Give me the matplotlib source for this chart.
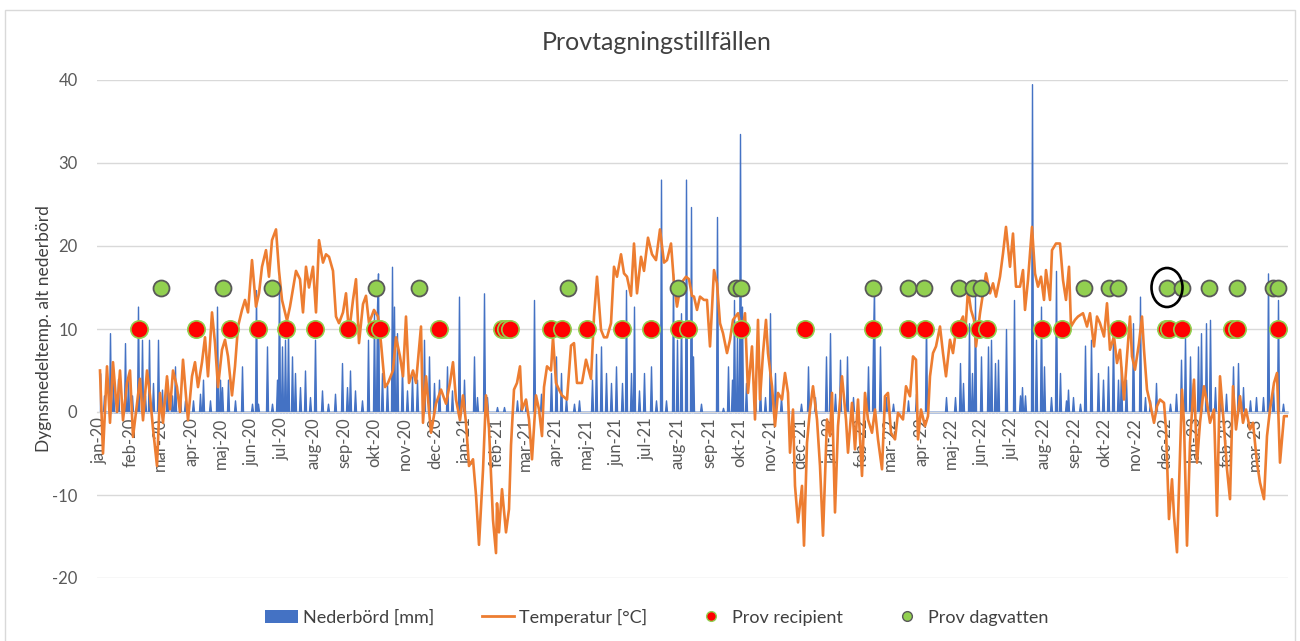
import numpy as np
import pandas as pd
import matplotlib
matplotlib.use("Agg")
import matplotlib.pyplot as plt
import matplotlib.dates as mdates
from matplotlib.patches import Ellipse, Rectangle, Patch
from matplotlib.lines import Line2D

plt.rcParams['font.family'] = ['Lato', 'DejaVu Sans']
plt.rcParams['axes.unicode_minus'] = False

start = pd.Timestamp('2020-01-01')

# temperature (day offset from 2020-01-01, degC)
temp_day = [0, 3, 7, 10, 13, 17, 20, 23, 27, 30, 33, 37, 40, 43, 47, 50, 53, 57, 60, 63, 67, 70, 73, 77, 80, 83, 88, 92, 95, 98,
            102, 105, 108, 112, 115, 118, 122, 125, 128, 132, 135, 138, 142, 145, 148, 152, 156, 159, 162, 166, 169, 172, 176, 179,
            182, 187, 190, 196, 200, 203, 206, 209, 213, 216, 219, 223, 226, 229, 233, 236, 239, 243, 246, 249, 253, 256, 259, 263,
            266, 269, 274, 278, 281, 285, 288, 293, 296, 300, 303, 306, 309, 313, 316, 321, 323, 326, 331, 336, 341, 346, 350, 353,
            356, 360, 363, 366, 369, 373, 376, 379, 383, 386, 389, 393, 396, 397, 399, 402, 406, 409, 411, 414, 417, 420, 422, 426,
            429, 432, 436, 439, 442, 444, 447, 451, 453, 456, 459, 462, 467, 471, 474, 477, 482, 486, 491, 494, 497, 501, 504, 507,
            511, 514, 517, 521, 524, 527, 531, 534, 537, 541, 544, 548, 552, 556, 560, 564, 567, 571, 574, 577, 581, 586, 589, 592,
            594, 597, 600, 604, 607, 610, 614, 617, 620, 623, 627, 630, 633, 638, 642, 645, 648, 652, 655, 658, 660, 663, 666, 668,
            672, 675, 678, 682, 685, 688, 690, 693, 695, 698, 702, 704, 707, 710, 713, 717, 720, 723, 727, 730, 732, 735, 738, 742,
            746, 748, 752, 755, 758, 762, 765, 768, 772, 775, 778, 782, 785, 788, 791, 795, 798, 803, 806, 810, 813, 816, 818, 821,
            825, 828, 830, 833, 836, 840, 843, 846, 850, 853, 856, 860, 863, 865, 868, 871, 874, 876, 880, 883, 886, 890, 893, 896,
            900, 903, 906, 910, 913, 916, 920, 923, 925, 928, 932, 935, 938, 941, 944, 946, 950, 952, 956, 960, 963, 966, 969, 971,
            975, 978, 983, 987, 990, 994, 997, 1000, 1004, 1007, 1010, 1014, 1017, 1020, 1024, 1027, 1030, 1032, 1035, 1039, 1042,
            1044, 1047, 1050, 1054, 1057, 1060, 1064, 1066, 1069, 1072, 1074, 1077, 1080, 1082, 1084, 1087, 1090, 1094, 1097, 1100,
            1104, 1107, 1110, 1114, 1117, 1120, 1124, 1127, 1130, 1133, 1136, 1140, 1143, 1146, 1150, 1153, 1157, 1160, 1164, 1167,
            1170, 1174, 1177, 1180, 1184, 1187]
temp_c = [5, -5, 5.5, -1.3, 6, 0, 5, -1, 3.5, 5, -3, 1, 4, -1, 5, 2, -2, -6.5, 2.3, -1.3, 4.3, 0.3, 5, 3, 0, 6.3, -1, 4.3, 6, 3,
          6, 9, 4.3, 12, 8.3, 3, 7.5, 8.7, 6.7, 2, 5.5, 10.3, 12.3, 13.5, 12, 18.3, 12.7, 14.3, 17.5, 19.5, 16.3, 20.7, 22, 17,
          13.5, 11, 12.7, 17, 16, 12, 17.5, 15, 17.5, 12, 20.7, 18, 19, 18.7, 17, 11.5, 10.7, 12, 14.3, 9.5, 13.5, 16, 8.3, 13,
          14, 10.7, 12.3, 11.5, 8.3, 3, 3.5, 5, 9, 6.7, 4.3, 11.5, 3.5, 5, 3.5, 10.3, -1.3, 4.3, -2.5, 1, 2.7, 1, 3.5, 6,
          1.5, -1, 2, -1.3, -6.5, -5.7, -10, -16, -7, 2, -2, -13, -17, -11, -14.5, -9.3, -14.5, -11.7, -4, 2.7, 3.5, 5.5, 0.3, 1.5,
          -0.9, -5.7, 2, 0.3, -2.9, 3, 5.5, 5, 9, 3.5, 2.7, 2, 1.5, 8, 8.3, 3.5, 3.5, 6.3, 4, 11.5, 16.3, 9.9, 9, 9,
          10.7, 17.5, 16.3, 19, 16.7, 16.3, 14, 20.3, 14.3, 18.7, 17, 21, 19, 18.3, 22, 18, 18.3, 20.3, 15.5, 12.7, 15.5, 16.3, 16, 14,
          13.9, 12.3, 13.9, 13.5, 13.5, 7.9, 17.1, 15.5, 10.7, 9.5, 7.1, 8.7, 11.1, 11.9, 9.5, 11.9, 2.3, 7.9, -0.9, 11.1, 1.5, 7.1, 11.1, 7.1,
          3.1, -1.7, 2.3, 1.5, 4.7, 2.3, -4.9, 0.3, -8.9, -13.3, -8.9, -16.1, -3.7, 0.3, 3.1, -0.9, -6.5, -14.9, -0.9, -2.9, 2.3, -12.1, -1.7, 4.3,
          -0.9, -4.9, 1.1, -4.5, 1.5, -7.7, 2.3, -0.9, -2.5, 0.3, -3.3, -6.9, 1.9, 2.3, -2.5, -3.3, -0.1, -0.9, 3.1, 1.9, 6.7, 6.3, -3.3, 0.3,
          -1.7, -0.5, 4.3, 7.1, 7.9, 10.3, 7.1, 4.3, 8.7, 7.1, 9.9, 10.7, 11.5, 9.1, 14.7, 12.3, 11.1, 7.9, 11.9, 14.3, 16.7, 14.3, 15.5, 13.9,
          16.3, 19.1, 22.3, 17.5, 21.5, 15.1, 15.1, 17.1, 12.3, 15.9, 22.3, 16.7, 15.1, 16.3, 13.5, 17.1, 13.5, 19.5, 20.3, 20.3, 15.9, 13.5, 17.5, 10.3,
          11.1, 11.5, 11.9, 10.3, 11.9, 7.9, 11.5, 10.7, 9.1, 13.1, 7.5, 9.1, 5.9, 7.5, 1.5, 6.7, 11.5, 6.7, 5.1, 8.3, 11.5,
          7.5, 2.7, 1.1, -1.3, 0.7, 1.5, 1.1, -2.1, -12.9, -8.1, -12.5, -16.9, -5.3, 2.7, -1.3, -16.1, -3.7, 3.9, -6.1, -1.3,
          3.1, 1.1, -1.3, 0.3, -12.5, 4.3, -1.7, -6.9, -10.5, 3.1, -2.1, 1.9, -1.3, 0.3, -2.1, -1.3, -6.1, -8.5, -10.5, -2.9,
          0.3, 3.5, 4.7, -6.1, -0.5, -0.5]

# precipitation spikes (day offset, mm); other days are dry
rain_day = [0, 4, 10, 13, 18, 25, 28, 32, 38, 42, 45, 49, 53, 58, 62, 67, 72, 75, 80, 85, 93, 100, 103, 110, 117, 120, 122, 128,
            135, 142, 152, 156, 158, 167, 172, 177, 179, 182, 185, 188, 192, 195, 200, 205, 210, 215, 222, 228, 235, 242, 247,
            250, 255, 262, 268, 274, 277, 278, 282, 287, 292, 294, 297, 302, 307, 312, 317, 324, 329, 334, 339, 347, 352, 359,
            364, 374, 377, 384, 387, 397, 404, 417, 421, 426, 434, 441, 451, 456, 461, 466, 474, 479, 492, 496, 501, 506, 511,
            516, 522, 526, 531, 534, 539, 544, 551, 556, 561, 566, 573, 577, 581, 586, 591, 593, 601, 617, 623, 628, 632, 634,
            637, 640, 642, 646, 655, 660, 665, 670, 675, 681, 701, 708, 715, 726, 730, 735, 740, 747, 753, 768, 773, 774, 780,
            786, 793, 808, 816, 826, 846, 855, 860, 863, 869, 872, 875, 881, 888, 891, 895, 898, 906, 914, 920, 922, 925, 932,
            936, 941, 944, 951, 956, 960, 966, 968, 973, 980, 985, 991, 998, 1003, 1008, 1013, 1018, 1021, 1026, 1033, 1040,
            1045, 1050, 1056, 1070, 1076, 1081, 1085, 1090, 1093, 1098, 1101, 1106, 1110, 1115, 1120, 1126, 1133, 1138, 1143,
            1150, 1156, 1163, 1168, 1173, 1178, 1183]
rain_mm = [4.7, 2, 9.5, 3.5, 4, 8.3, 4, 2, 12.7, 8.7, 2, 8.7, 3.5, 8.7, 2.7, 4, 2, 5.5, 2.2, 1.4, 1.4, 2.2, 3.9, 1.4, 12.7, 3.9, 3, 3.9,
           1.4, 5.5, 1, 14.7, 1, 7.9, 1, 3.9, 16.3, 7.9, 8.7, 9.9, 6.7, 4.7, 3, 5, 1.8, 8.7, 2.6, 1, 2.2, 5.9, 3,
           5, 2.6, 1.4, 8.7, 11.9, 12.7, 16.7, 4.7, 3.5, 17.5, 12.7, 9.5, 5.5, 2.6, 4.3, 3.9, 8.7, 6.7, 3.5, 3.9, 5.5, 2.6, 13.9,
           3.9, 6.7, 1.8, 14.3, 1.8, 0.6, 0.6, 1.4, 1, 1.4, 13.5, 2.2, 4.7, 6.7, 4.7, 1.8, 1, 1.4, 3.9, 7, 7.9, 4.7, 3.5,
           5.5, 3.5, 14.7, 4.7, 12.7, 2.6, 4.7, 5.5, 1.4, 28, 1.4, 16.7, 8.7, 11.9, 28, 24.7, 6.7, 1, 23.5, 0.5, 5.5, 3.9, 13.5,
           9.5, 33.5, 12.7, 3.5, 2.6, 3, 1.8, 11.9, 4.7, 1.8, 1, 5.5, 1.8, 6.7, 9.5, 2.2, 6.3, 6.7, 1.8, 5.5, 8.7, 15, 7.9,
           1.8, 1, 1.4, 2.2, 11, 1.8, 1.8, 5.9, 3.5, 10.7, 4.7, 13.9, 6.7, 7.9, 8.7, 5.9, 6.3, 10, 13.5, 2, 3, 2, 39.5,
           8.7, 12.7, 5.5, 1.8, 17, 4.7, 1.4, 2.7, 1.8, 1, 8, 8.7, 4.7, 3.9, 5.5, 9.5, 3.9, 5.5, 3.9, 10.7, 13.9,
           1.8, 1.4, 3.5, 1, 2.2, 6.3, 9.1, 6.7, 3.5, 7.9, 9.5, 10.7, 11.1, 3, 1.4, 2.2, 5.5, 5.9, 3,
           1.4, 1.8, 1.8, 16.7, 3, 13.5, 1]

# sampling occasions
prov_recipient = ['2020-02-09', '2020-04-06', '2020-05-10', '2020-06-07', '2020-07-05', '2020-08-03', '2020-09-05',
                  '2020-10-02', '2020-10-07', '2020-12-05', '2021-02-06', '2021-02-10', '2021-02-14', '2021-03-27',
                  '2021-04-07', '2021-05-02', '2021-06-06', '2021-07-05', '2021-08-02', '2021-08-11', '2021-10-03',
                  '2021-12-06', '2022-02-12', '2022-03-19', '2022-04-05', '2022-05-09', '2022-05-29', '2022-06-06',
                  '2022-07-31', '2022-08-20', '2022-10-15', '2022-12-02', '2022-12-05', '2022-12-18', '2023-02-06',
                  '2023-02-11', '2023-03-24']
prov_dagvatten = ['2020-03-02', '2020-05-03', '2020-06-21', '2020-10-03', '2020-11-15', '2021-04-13', '2021-08-01',
                  '2021-09-28', '2021-10-03', '2022-02-12', '2022-03-19', '2022-04-04', '2022-05-09', '2022-05-23',
                  '2022-05-31', '2022-09-11', '2022-10-06', '2022-10-15', '2022-12-03', '2022-12-18', '2023-01-14',
                  '2023-02-11', '2023-03-19', '2023-03-24']
recipient_level = 10
dagvatten_level = 15
circled = '2022-12-03'

months_sv = ['jan', 'feb', 'mar', 'apr', 'maj', 'jun', 'jul', 'aug', 'sep', 'okt', 'nov', 'dec']

temp_dates = start + pd.to_timedelta(temp_day, unit='D')
days = pd.date_range(start, periods=1189, freq='D')
rain = np.zeros(len(days))
rain[np.array(rain_day)] = rain_mm
rec_dates = pd.to_datetime(prov_recipient)
dag_dates = pd.to_datetime(prov_dagvatten)

fig = plt.figure(figsize=(13, 6.41), dpi=100)
fig.patches.append(Rectangle((5 / 1300, -0.01), 1290 / 1300, 1 - 10 / 641 + 0.01, transform=fig.transFigure,
                             fill=False, ec='#D9D9D9', lw=1))
ax = fig.add_axes([97 / 1300, 1 - 578 / 641, (1288 - 97) / 1300, (578 - 80) / 641])

ax.fill_between(days, 0, rain, color='#4472C4', lw=1.0, ec='#4472C4', zorder=2)
ax.plot(temp_dates, temp_c, color='#ED7D31', lw=1.9, zorder=3)
ax.plot(rec_dates, [recipient_level] * len(rec_dates), ls='', marker='o', ms=12.5, mfc='#FF0000', mec='#92D050',
        mew=1.2, zorder=5)
ax.plot(dag_dates, [dagvatten_level] * len(dag_dates), ls='', marker='o', ms=11.5, mfc='#92D050', mec='#595959',
        mew=1.3, zorder=5)

# black ring round one sample
ax.add_patch(Ellipse((mdates.date2num(pd.Timestamp(circled)), dagvatten_level), width=31, height=4.7,
                     fill=False, ec='black', lw=1.9, zorder=6))

ax.set_ylim(-20, 40)
ax.set_yticks(range(-20, 41, 10))
ax.yaxis.grid(True, color='#D9D9D9', lw=1)
ax.set_axisbelow(True)

for s in ['top', 'right', 'left']:
    ax.spines[s].set_visible(False)
ax.spines['bottom'].set_position(('data', 0))
ax.spines['bottom'].set_color('#D9D9D9')

ticks = pd.date_range('2020-01-01', '2023-03-01', freq='MS')
ax.set_xticks(ticks)
ax.set_xticklabels([months_sv[t.month - 1] + '-' + t.strftime('%y') for t in ticks])
ax.set_xlim(start - pd.Timedelta(days=3), start + pd.Timedelta(days=1188))
ax.tick_params(axis='both', length=0, labelsize=12, labelcolor='#595959')
ax.tick_params(axis='x', pad=4, labelrotation=90)
ax.tick_params(axis='y', pad=14)

ax.set_ylabel('Dygnsmedeltemp. alt nederbörd', fontsize=12.5, color='#404040', labelpad=0)
fig.text(657 / 1300, 1 - 43 / 641, 'Provtagningstillfällen', ha='center', va='center', fontsize=18, color='#404040')

handles = [Patch(fc='#4472C4', ec='none'),
           Line2D([], [], color='#ED7D31', lw=2),
           Line2D([], [], ls='', marker='o', ms=7, mfc='#FF0000', mec='#92D050', mew=1),
           Line2D([], [], ls='', marker='o', ms=7, mfc='#92D050', mec='#595959', mew=1)]
labels = ['Nederbörd [mm]', 'Temperatur [°C]', 'Prov recipient', 'Prov dagvatten']
leg = fig.legend(handles, labels, loc='center', bbox_to_anchor=(657 / 1300, 1 - 617 / 641), ncol=4, frameon=False,
                 fontsize=13, handlelength=1.8, handletextpad=0.3, columnspacing=2.6)
for t in leg.get_texts():
    t.set_color('#404040')

fig.savefig('out.png', dpi=100)
